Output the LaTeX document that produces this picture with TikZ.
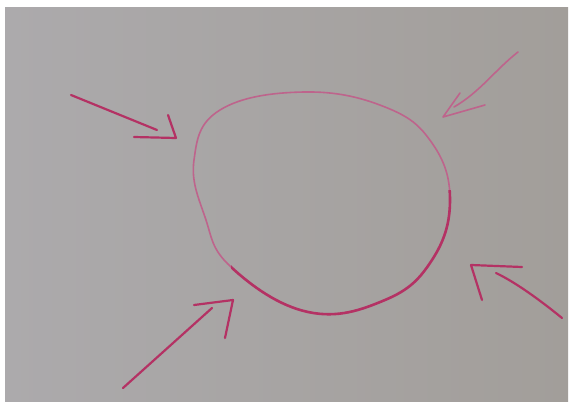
\documentclass[tikz,border=0pt]{standalone}
\begin{document}
\begin{tikzpicture}[x=1pt,y=-1pt,
  ink/.style={draw={rgb,255:red,180;green,50;blue,100},line cap=round,line join=round,line width=2.2pt},
  inkthin/.style={ink,line width=1.6pt,draw={rgb,255:red,190;green,100;blue,140}}]
\useasboundingbox (0,0) rectangle (574,407);
\fill[white] (0,0) rectangle (574,407);
\shade[left color={rgb,255:red,172;green,170;blue,172},right color={rgb,255:red,162;green,158;blue,154}] (5,7) rectangle (568,401);
% blob
\def\blob{plot[smooth cycle,tension=0.7] coordinates {(304,92) (385,107) (432,143) (450,200) (432,260) (385,300) (308,312) (231,267) (205,217) (194,160) (220,110)}}
\draw[inkthin] \blob;
\begin{scope}
\clip (231,262) -- (231,330) -- (470,330) -- (470,190) -- (420,190) -- cycle;
\draw[ink,line width=2.6pt] \blob;
\end{scope}
% arrow 1 (top left)
\draw[ink] (71,95) -- (157,130);
\draw[ink] (168,115) -- (176,138) -- (134,137);
% arrow 2 (top right)
\draw[inkthin] (518,52) .. controls (495,70) and (480,92) .. (454,107);
\draw[inkthin] (460,93) -- (443,117) -- (485,105);
% arrow 3 (bottom right)
\draw[ink] (562,318) .. controls (540,300) and (515,282) .. (496,273);
\draw[ink] (522,267) -- (471,265) -- (482,300);
% arrow 4 (bottom left)
\draw[ink] (123,388) -- (212,308);
\draw[ink] (194,305) -- (233,300) -- (225,338);
\end{tikzpicture}
\end{document}
